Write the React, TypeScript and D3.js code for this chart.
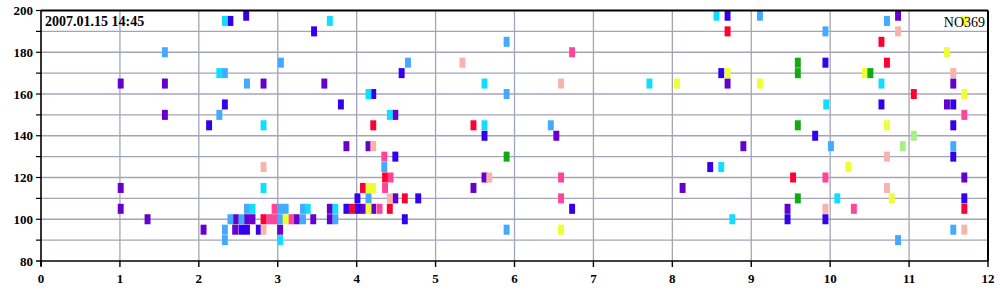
import React from 'react';
import * as d3 from 'd3';

// ---- Data (x in axis units, y value of bar centre) ----
const titleText = '2007.01.15 14:45';
const idText = 'NO369';
const xTicks = [0, 1, 2, 3, 4, 5, 6, 7, 8, 9, 10, 11, 12];
const yTickLabels = [80, 100, 120, 140, 160, 180, 200];
const yGridLines = [90, 100, 110, 120, 130, 140, 150, 160, 170, 180, 190];

const purple: [number, number][] = [
  [1.01, 165], [1.57, 165], [1.57, 150], [1.01, 115], [1.01, 105], [1.35, 100], [2.06, 95],
  [2.82, 165], [3.59, 165], [4.49, 150], [3.87, 135], [4.15, 135],
  [2.47, 100], [2.61, 100], [2.68, 100], [3.24, 100], [3.45, 100], [3.66, 100], [2.46, 95], [3.03, 95],
  [3.66, 105], [4.08, 105], [4.21, 105], [4.49, 110], [5.48, 115], [5.62, 120],
  [6.53, 140], [8.70, 165], [8.90, 135], [8.13, 115],
  [10.86, 197.5], [11.56, 165], [11.48, 155], [11.70, 120], [9.46, 105],
];
const blue: [number, number][] = [
  [2.40, 195], [2.60, 197.5], [2.13, 145], [2.33, 155], [3.46, 190], [4.57, 170], [4.21, 160],
  [3.80, 155], [5.62, 140], [4.49, 130], [4.01, 110], [4.01, 105], [4.78, 110], [3.87, 105],
  [4.61, 100], [2.76, 95], [2.54, 95], [2.61, 95], [6.73, 105], [8.48, 125], [8.62, 170],
  [8.70, 197.5], [9.94, 175], [10.65, 155], [11.56, 155], [11.56, 145], [9.81, 140],
  [11.56, 130], [11.70, 110], [9.46, 100], [9.94, 100],
];
const lightBlue: [number, number][] = [
  [1.57, 180], [2.33, 170], [2.26, 150], [2.61, 165], [3.04, 175], [4.65, 175], [4.35, 125],
  [4.15, 110], [2.61, 105], [3.04, 105], [3.10, 105], [3.32, 105], [2.40, 100], [2.54, 100],
  [3.03, 100], [3.32, 100], [3.73, 100], [2.33, 95], [2.33, 90], [5.90, 185], [5.90, 160],
  [6.46, 145], [5.90, 95], [9.11, 197.5], [10.72, 195], [9.94, 190], [10.01, 135],
  [11.56, 135], [11.56, 95], [10.86, 90],
];
const cyan: [number, number][] = [
  [2.26, 170], [2.33, 195], [3.66, 195], [5.62, 165], [4.15, 160], [4.42, 150], [2.82, 145],
  [5.62, 145], [2.82, 115], [2.68, 105], [3.38, 105], [3.73, 105], [3.03, 90], [7.71, 165],
  [8.56, 197.5], [8.62, 125], [8.76, 100], [9.95, 155], [10.65, 165], [10.09, 110],
];
const red: [number, number][] = [
  [4.21, 145], [5.48, 145], [4.36, 120], [4.08, 115], [4.61, 110], [3.94, 105], [4.42, 105],
  [2.82, 100], [8.70, 190], [10.65, 185], [10.72, 175], [11.06, 160], [9.53, 120], [11.70, 105],
];
const pink: [number, number][] = [
  [4.35, 130], [4.43, 120], [4.36, 115], [2.96, 105], [4.29, 105], [2.89, 100], [2.96, 100],
  [3.17, 100], [6.73, 180], [6.59, 120], [6.59, 110], [11.70, 150], [9.94, 120], [10.30, 105],
];
const salmon: [number, number][] = [
  [5.34, 175], [4.21, 135], [2.82, 125], [5.68, 120], [4.42, 110], [2.82, 95], [6.59, 165],
  [10.86, 190], [11.56, 170], [10.72, 130], [10.72, 115], [9.94, 105], [11.70, 95],
];
const yellow: [number, number][] = [
  [4.15, 115], [4.21, 115], [4.15, 105], [3.10, 100], [8.06, 165], [8.70, 170], [6.59, 95],
  [11.70, 195], [11.48, 180], [10.44, 170], [9.11, 165], [11.70, 160], [10.72, 145],
  [10.23, 125], [10.78, 110],
];
const green: [number, number][] = [
  [5.90, 130], [9.59, 175], [9.59, 170], [10.51, 170], [9.59, 145], [9.59, 110],
];
const lightGreen: [number, number][] = [
  [11.06, 140], [10.92, 135],
];

const series = [
  { name: 'purple', color: '#6600CC', data: purple },
  { name: 'blue', color: '#3300EE', data: blue },
  { name: 'lightBlue', color: '#44AAFF', data: lightBlue },
  { name: 'cyan', color: '#11DDFF', data: cyan },
  { name: 'red', color: '#FF0033', data: red },
  { name: 'pink', color: '#FF4499', data: pink },
  { name: 'salmon', color: '#F8B4AC', data: salmon },
  { name: 'yellow', color: '#EEFF33', data: yellow },
  { name: 'green', color: '#11AA11', data: green },
  { name: 'lightGreen', color: '#AAEE88', data: lightGreen },
];

const W = 1000;
const H = 300;
const margin = { left: 41, right: 12, top: 10.5, bottom: 39 };
const BAR_W = 0.075; // x units
const BAR_H = 2.4;   // half-height in y units

export default function App() {
  const x = d3.scaleLinear().domain([0, 12]).range([margin.left, W - margin.right]);
  const y = d3.scaleLinear().domain([80, 200]).range([H - margin.bottom, margin.top]);
  const font = '"Liberation Serif", "Times New Roman", serif';
  const gridColor = '#A4A4B8';
  const x0 = x(0), x1 = x(12), y0 = y(80), y1 = y(200);
  const bw = x(BAR_W) - x(0);

  return (
    <svg width={W} height={H} style={{ position: 'absolute', left: 0, top: 0, background: '#fff' }}
      fontFamily={font}>
      <rect x={0} y={0} width={W} height={H} fill="#fff" />
      {/* grid */}
      {xTicks.slice(1, -1).map(t => (
        <line key={'gx' + t} x1={x(t)} x2={x(t)} y1={y1} y2={y0} stroke={gridColor} strokeWidth={1.3} />
      ))}
      {yGridLines.map(t => (
        <line key={'gy' + t} x1={x0} x2={x1} y1={y(t)} y2={y(t)} stroke={gridColor} strokeWidth={1.3} />
      ))}
      {/* texts inside plot */}
      <text x={x0 + 4} y={y1 + 15} fontSize={14} fontWeight="bold" fill="#000">{titleText}</text>
      {/* bars */}
      {series.map(s => (
        <g key={s.name}>
          {s.data.map((d, i) => (
            <rect key={i} x={x(d[0]) - bw / 2} y={y(d[1] + BAR_H)} width={bw}
              height={y(d[1] - BAR_H) - y(d[1] + BAR_H)} fill={s.color} />
          ))}
        </g>
      ))}
      <text x={x1 - 3} y={y1 + 16} fontSize={14} textAnchor="end" fill="#000">{idText}</text>
      {/* frame */}
      <line x1={x0} x2={x1} y1={y1} y2={y1} stroke="#000" strokeWidth={2} />
      <line x1={x1} x2={x1} y1={y1} y2={y0} stroke="#000" strokeWidth={2} />
      <line x1={x0} x2={x0} y1={y1} y2={y0 + 5} stroke="#000" strokeWidth={1.6} />
      <line x1={x0 - 5} x2={x1} y1={y0} y2={y0} stroke="#000" strokeWidth={1.6} />
      {/* y ticks */}
      {[...yGridLines, 200].map(t => (
        <line key={'ty' + t} x1={x0 - 5} x2={x0} y1={y(t)} y2={y(t)} stroke="#000" strokeWidth={1.2} />
      ))}
      {yTickLabels.map(t => (
        <text key={'ly' + t} x={33} y={y(t)} dy="0.35em" textAnchor="end" fontSize={13}
          fontWeight="bold" fill="#000">{t}</text>
      ))}
      {/* x ticks */}
      {xTicks.map(t => (
        <g key={'tx' + t}>
          <line x1={x(t)} x2={x(t)} y1={y0} y2={y0 + 6} stroke="#000" strokeWidth={1.4} />
          <text x={x(t)} y={y0 + 22} textAnchor="middle" fontSize={13} fontWeight="bold" fill="#000">{t}</text>
        </g>
      ))}
    </svg>
  );
}
